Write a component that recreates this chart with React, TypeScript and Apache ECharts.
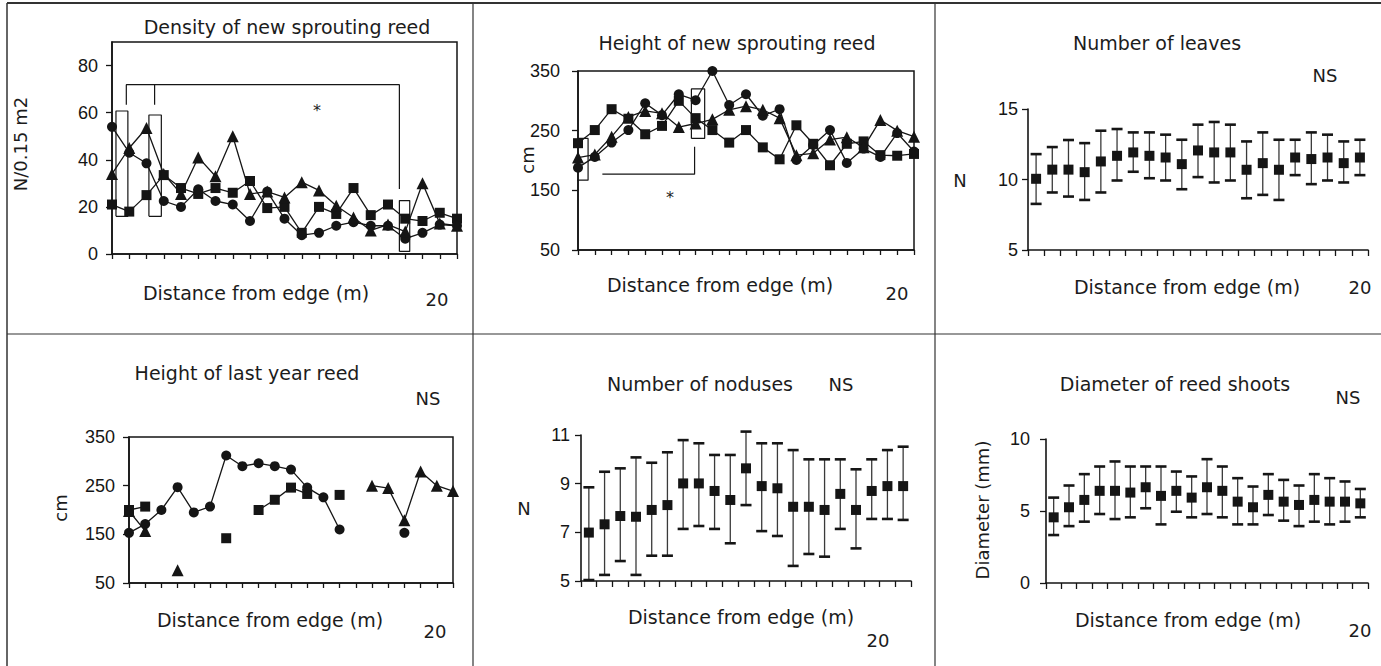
import React, { useEffect, useRef } from "react";
import * as echarts from "echarts";

// ---------- data ----------
const distances = [0, 1, 2, 3, 4, 5, 6, 7, 8, 9, 10, 11, 12, 13, 14, 15, 16, 17, 18, 19, 20];
const distanceCats = distances.map(String);

// Density of new sprouting reed (N/0.15 m2)
const densitySquare = [21, 18, 25, 33.5, 28, 25.5, 28, 26, 31, 19.5, 20, 9, 20, 17, 28, 16.5, 21, 15, 14, 17.5, 15];
const densityCircle = [54, 43, 38.5, 22.5, 20, 27.5, 22.5, 21, 14, 26.5, 15, 8, 9, 12, 13.5, 12, 12, 6.5, 9, 12.5, 12];
const densityTriangle = [34, 45, 53.5, 34, 25.5, 41, 33, 50, 25.5, 26.5, 24, 30.5, 27, 20.5, 15.5, 10, 12.5, 9.5, 30, 13, 12];
const densityBoxes = [
  [0.23, 0.92, 16, 60.7],
  [2.14, 2.86, 16, 59],
  [16.66, 17.26, 1.1, 22.7],
];
const densityBracket = [[0.83, 63.4], [0.83, 71.9], [16.66, 71.9], [16.66, 27.6]];
const densityBracketTick = [[2.47, 71.9], [2.47, 63.4]];

// Height of new sprouting reed (cm)
const heightSquare = [229, 251, 286, 270, 244, 258, 300, 271, 251, 230, 251, 222, 202, 259, 228, 192, 228, 232, 209, 208, 211];
const heightCircle = [188, 206, 230, 251, 296, 276, 311, 301, 350, 293, 311, 275, 286, 201, 226, 251, 196, 220, 206, 246, 215];
const heightTriangle = [205, 210, 240, 273, 283, 279, 256, 262, 269, 285, 291, 285, 271, 209, 212, 235, 239, 222, 268, 250, 240];
const heightBoxes = [
  [-0.36, 0.6, 167, 237],
  [6.75, 7.54, 237, 320],
];
const heightBracket = [[1.45, 177], [6.94, 177], [6.94, 223]];

// Number of leaves (N)
const leafMean = [10.05, 10.7, 10.7, 10.52, 11.28, 11.68, 11.92, 11.68, 11.56, 11.09, 12.06, 11.92, 11.92, 10.69, 11.16, 10.69, 11.56, 11.45, 11.56, 11.16, 11.56];
const leafLow = [8.27, 9.08, 8.79, 8.55, 9.08, 9.93, 10.55, 10.09, 9.93, 9.31, 10.17, 9.79, 9.93, 8.67, 8.91, 8.55, 10.31, 9.67, 9.93, 9.79, 10.31];
const leafHigh = [11.8, 12.3, 12.8, 12.58, 13.46, 13.58, 13.34, 13.34, 13.18, 12.82, 13.89, 14.08, 13.89, 12.7, 13.34, 12.82, 12.82, 13.34, 13.18, 12.7, 12.82];

// Height of last year reed (cm)
const lastCircle = [153, 171, 200, 247, 195, 207, 312, 290, 296, 290, 283, 246, 226, 160, null, null, null, 153, null, null, null];
const lastSquare = [200, 207, null, null, null, null, 142, null, 200, 221, 246, 233, null, 231, null, null, null, null, null, null, null];
const lastTriangle = [198, 157, null, 76, null, null, null, null, null, null, null, null, null, null, null, 250, 245, 179, 279, 250, 239];

// Number of noduses (N)
const nodMean = [6.99, 7.33, 7.67, 7.64, 7.92, 8.12, 9.01, 9.01, 8.7, 8.33, 9.63, 8.9, 8.81, 8.05, 8.05, 7.92, 8.58, 7.92, 8.7, 8.9, 8.9];
const nodLow = [5.04, 5.25, 5.82, 5.25, 6.04, 6.04, 7.14, 7.26, 7.14, 6.55, 8.12, 7.05, 6.85, 5.62, 6.11, 6.0, 7.14, 6.34, 7.55, 7.55, 7.51];
const nodHigh = [8.85, 9.49, 9.63, 10.08, 9.86, 10.29, 10.79, 10.66, 10.18, 10.18, 11.14, 10.66, 10.66, 10.38, 10.0, 10.0, 10.0, 9.59, 10.0, 10.38, 10.52];

// Diameter of reed shoots (mm)
const diaMean = [4.56, 5.26, 5.77, 6.4, 6.4, 6.28, 6.65, 6.05, 6.4, 5.93, 6.65, 6.4, 5.65, 5.26, 6.12, 5.65, 5.42, 5.77, 5.65, 5.65, 5.53];
const diaLow = [3.33, 3.95, 4.26, 4.79, 4.44, 4.56, 5.19, 4.07, 4.95, 4.56, 4.79, 4.56, 4.07, 4.07, 4.72, 4.33, 3.95, 4.26, 4.07, 4.26, 4.56];
const diaHigh = [5.93, 6.77, 7.56, 8.09, 8.44, 8.09, 8.09, 8.09, 7.74, 7.4, 8.6, 8.09, 7.28, 6.7, 7.56, 7.16, 6.77, 7.56, 7.28, 7.05, 6.53];

// y-axis tick values per panel
const densityTicks = [0, 20, 40, 60, 80];
const heightTicks = [50, 150, 250, 350];
const leafTicks = [5, 10, 15];
const nodTicks = [5, 7, 9, 11];
const diaTicks = [0, 5, 10];

// ---------- helpers ----------
const INK = "#151515";
const LABEL_FONT = "'Liberation Sans', Arial, sans-serif";
const TEXT_FONT = "'DejaVu Sans', sans-serif";

function toPairs(values: (number | null)[]) {
  return distances.map((d, i) => [d, values[i] == null ? "-" : values[i]]);
}

function lineSeries(idx: number, values: (number | null)[], symbol: string, size: number) {
  return {
    type: "line",
    xAxisIndex: idx,
    yAxisIndex: idx,
    data: toPairs(values),
    symbol,
    symbolSize: size,
    showSymbol: true,
    connectNulls: false,
    clip: false,
    lineStyle: { color: INK, width: 1.3 },
    itemStyle: { color: INK, opacity: 1 },
    z: 3,
    silent: true,
  };
}

function pathSeries(idx: number, pts: number[][]) {
  return {
    type: "line",
    xAxisIndex: idx,
    yAxisIndex: idx,
    data: pts,
    symbol: "none",
    clip: false,
    lineStyle: { color: INK, width: 1.2 },
    z: 4,
    silent: true,
  };
}

function boxSeries(idx: number, boxes: number[][]) {
  return boxes.map(([x1, x2, y1, y2]) =>
    pathSeries(idx, [[x1, y1], [x2, y1], [x2, y2], [x1, y2], [x1, y1]])
  );
}

function errorSeries(idx: number, low: number[], high: number[]) {
  return {
    type: "custom",
    xAxisIndex: idx,
    yAxisIndex: idx,
    data: low.map((l, i) => [i, l, high[i]]),
    encode: { x: 0, y: [1, 2] },
    silent: true,
    z: 2,
    renderItem: (_params: any, api: any) => {
      const x = api.value(0);
      const lo = api.coord([x, api.value(1)]);
      const hi = api.coord([x, api.value(2)]);
      const hw = 5.5;
      return {
        type: "group",
        children: [
          { type: "line", shape: { x1: lo[0], y1: lo[1], x2: hi[0], y2: hi[1] }, style: { stroke: "#3a3a3a", lineWidth: 1.3 } },
          { type: "line", shape: { x1: lo[0] - hw, y1: lo[1], x2: lo[0] + hw, y2: lo[1] }, style: { stroke: INK, lineWidth: 2.6 } },
          { type: "line", shape: { x1: hi[0] - hw, y1: hi[1], x2: hi[0] + hw, y2: hi[1] }, style: { stroke: INK, lineWidth: 2.6 } },
        ],
      };
    },
  };
}

function meanSeries(idx: number, means: number[]) {
  return {
    type: "scatter",
    xAxisIndex: idx,
    yAxisIndex: idx,
    data: means.map((m, i) => [i, m]),
    symbol: "rect",
    symbolSize: 10,
    itemStyle: { color: INK, opacity: 1 },
    z: 5,
    silent: true,
  };
}

const axisLineStyle = { lineStyle: { color: INK, width: 1.6 } };

function valueX(idx: number) {
  return {
    type: "value",
    gridIndex: idx,
    min: 0,
    max: 20,
    interval: 1,
    axisLine: axisLineStyle,
    axisTick: { show: true, length: 5, lineStyle: { color: INK, width: 1.3 } },
    axisLabel: { show: false },
    splitLine: { show: false },
  };
}

function categoryX(idx: number) {
  return {
    type: "category",
    gridIndex: idx,
    data: distanceCats,
    boundaryGap: true,
    axisLine: axisLineStyle,
    axisTick: { show: true, length: 6, interval: 0, lineStyle: { color: INK, width: 1.3 } },
    axisLabel: { show: false },
    splitLine: { show: false },
  };
}

function valueY(idx: number, min: number, max: number, ticks: number[], margin: number) {
  return {
    type: "value",
    gridIndex: idx,
    min,
    max,
    axisLine: { show: true, ...axisLineStyle },
    axisTick: { show: true, length: 6, customValues: ticks, lineStyle: { color: INK, width: 1.3 } },
    axisLabel: { customValues: ticks, margin, color: INK, fontFamily: LABEL_FONT, fontSize: 18 },
    splitLine: { show: false },
  };
}

function txt(text: string, x: number, y: number, size = 19, rotate = false) {
  return {
    type: "text",
    x,
    y,
    rotation: rotate ? Math.PI / 2 : 0,
    silent: true,
    style: {
      text,
      fill: "#1c1c1c",
      font: `${size}px ${TEXT_FONT}`,
      align: "center",
      verticalAlign: "middle",
    },
  };
}

function hline(x1: number, x2: number, y: number, w = 1.2) {
  return { type: "line", silent: true, shape: { x1, y1: y, x2, y2: y }, style: { stroke: "#333", lineWidth: w } };
}
function vline(x: number, y1: number, y2: number, w = 1.2) {
  return { type: "line", silent: true, shape: { x1: x, y1, x2: x, y2 }, style: { stroke: "#333", lineWidth: w } };
}

function buildOption() {
  const boxed = { show: true, borderColor: INK, borderWidth: 1.5, backgroundColor: "transparent" };
  return {
    animation: false,
    backgroundColor: "#fff",
    grid: [
      { left: 112, top: 42, width: 345, height: 212, ...boxed },
      { left: 578, top: 71, width: 336, height: 179, ...boxed },
      { left: 1028, top: 109, width: 340, height: 141 },
      { left: 129, top: 437, width: 324, height: 146, ...boxed },
      { left: 581, top: 435, width: 330, height: 146 },
      { left: 1046, top: 439, width: 322, height: 144 },
    ],
    xAxis: [valueX(0), valueX(1), categoryX(2), valueX(3), categoryX(4), categoryX(5)],
    yAxis: [
      valueY(0, 0, 90, densityTicks, 14),
      valueY(1, 50, 350, heightTicks, 18),
      valueY(2, 5, 15, leafTicks, 10),
      valueY(3, 50, 350, heightTicks, 14),
      valueY(4, 5, 11, nodTicks, 11),
      valueY(5, 0, 10, diaTicks, 16),
    ],
    series: [
      // panel 1
      lineSeries(0, densitySquare, "rect", 10),
      lineSeries(0, densityCircle, "circle", 10),
      lineSeries(0, densityTriangle, "triangle", 12),
      ...boxSeries(0, densityBoxes),
      pathSeries(0, densityBracket),
      pathSeries(0, densityBracketTick),
      // panel 2
      lineSeries(1, heightSquare, "rect", 10),
      lineSeries(1, heightCircle, "circle", 10),
      lineSeries(1, heightTriangle, "triangle", 12),
      ...boxSeries(1, heightBoxes),
      pathSeries(1, heightBracket),
      // panel 3
      errorSeries(2, leafLow, leafHigh),
      meanSeries(2, leafMean),
      // panel 4
      lineSeries(3, lastSquare, "rect", 10),
      lineSeries(3, lastCircle, "circle", 10),
      lineSeries(3, lastTriangle, "triangle", 12),
      // panel 5
      errorSeries(4, nodLow, nodHigh),
      meanSeries(4, nodMean),
      // panel 6
      errorSeries(5, diaLow, diaHigh),
      meanSeries(5, diaMean),
    ],
    graphic: [
      // frame
      hline(7, 1381, 3, 2),
      vline(7, 3, 666, 1.5),
      vline(473, 3, 666),
      vline(935, 3, 666),
      hline(7, 1381, 334),
      // titles
      txt("Density of new sprouting reed", 287, 27),
      txt("Height of new sprouting reed", 737, 43),
      txt("Number of leaves", 1157, 43),
      txt("Height of last year reed", 247, 373),
      txt("Number of noduses", 700, 384),
      txt("Diameter of reed shoots", 1175, 384),
      // x axis names
      txt("Distance from edge (m)", 256, 293),
      txt("Distance from edge (m)", 720, 285),
      txt("Distance from edge (m)", 1187, 287),
      txt("Distance from edge (m)", 270, 620),
      txt("Distance from edge (m)", 741, 617),
      txt("Distance from edge (m)", 1188, 620),
      txt("20", 437, 299, 18),
      txt("20", 897, 293, 18),
      txt("20", 1360, 287, 18),
      txt("20", 435, 631, 18),
      txt("20", 878, 640, 18),
      txt("20", 1360, 630, 18),
      // NS
      txt("NS", 1325, 75, 18),
      txt("NS", 428, 398, 18),
      txt("NS", 841, 384, 18),
      txt("NS", 1348, 397, 18),
      // y axis names
      txt("N/0.15 m2", 20, 144, 18, true),
      txt("cm", 527, 160, 18, true),
      txt("N", 960, 180, 18),
      txt("cm", 60, 508, 18, true),
      txt("N", 524, 508, 18),
      txt("Diameter (mm)", 982, 510, 18, true),
      // significance stars
      txt("*", 317, 110, 16),
      txt("*", 670, 197, 16),
    ],
  };
}

export default function App() {
  const ref = useRef<HTMLDivElement>(null);
  useEffect(() => {
    if (!ref.current) return;
    const chart = echarts.init(ref.current, null, { renderer: "svg" });
    chart.setOption(buildOption() as any);
    return () => chart.dispose();
  }, []);
  return (
    <div
      ref={ref}
      style={{ position: "fixed", left: 0, top: 0, width: 1381, height: 666, background: "#fff" }}
    />
  );
}
